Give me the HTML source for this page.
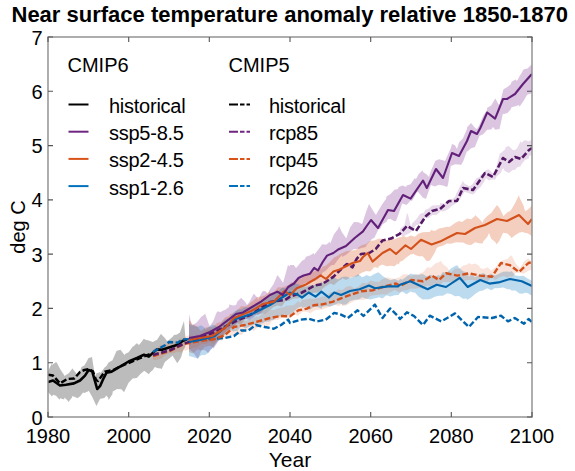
<!DOCTYPE html>
<html><head><meta charset="utf-8"><style>
html,body{margin:0;padding:0;background:#fff;}
body{width:575px;height:471px;overflow:hidden;position:relative;}
svg{position:absolute;left:0;top:0;}
</style></head><body>
<svg width="575" height="471" viewBox="0 0 575 471" font-family="Liberation Sans, sans-serif">
<rect width="575" height="471" fill="#fff"/>
<defs><clipPath id="pc"><rect x="48" y="37" width="484" height="380"/></clipPath></defs>
<g clip-path="url(#pc)" stroke-linejoin="round">
<polygon points="48,372.1 48,371 52,363.2 52,365 56.1,361.9 57,363 60.1,368.9 64.1,375 64.5,376 68.2,373.4 69,373 72,369 72.2,368.2 76.2,373.3 77,376 80.2,370.7 81.5,367 84.3,365.5 87,361 88.3,358.2 92,357 92.3,359 95,376 96.4,373.5 100,372 100.4,373.2 104.4,367.7 106.5,366 108.5,362.6 112.5,360.2 113,359 116.5,350.9 118,350.5 120.5,349.8 124.6,355.3 125,354 128.6,352.3 132.6,346.7 134,346 136.7,343.3 139,345 140.7,342.9 144,338.5 144.7,339.5 148.8,340.4 150,341 152.8,342.1 156.5,340 156.8,340.3 160.8,334.1 161,334 164.9,338.1 167,341 168.9,340 172.9,336.6 174,335 177,334.5 180,332.5 181,329.4 184,321 185,333 185.5,338 185.5,345 185,347.2 183.2,350.2 181,357.6 177.5,363 177,362.7 173,356.6 172.9,355.6 168.9,358.8 166.7,360.4 164.9,362.1 161.6,369.3 160.8,368.4 156.8,368.1 155,366.8 152.8,369.9 150,372.6 148.8,374.2 144.7,371.1 144,371 140.7,373.8 137,377.7 136.7,378.1 132.6,378.4 130.3,381 128.6,382.7 124.6,391.1 124.2,392.3 121,389 120.5,389.2 116.6,389 116.5,389.6 112.7,391.6 112.5,394.1 108.5,400.2 108.3,398 106.4,395.5 104.4,397.9 100.4,398.8 100,399 96.4,406 96.4,406 92.3,396.9 88.6,390.5 88.3,391.3 84.3,393 83,392.6 80.2,396.2 77.3,398.3 76.2,397.4 72.3,396 72.2,397.2 68.2,402.2 68,401 64.5,397.6 64.1,399.5 60.1,398.2 59.5,399.7 56.1,395.7 53,394.7 52,396.4 48,392 48,394.2" fill="#bcbcbc"/>
<polygon points="189,314.6 189,314 192,326 193,324.7 196,323 197.1,322.1 201.1,317.1 205,314 205.1,313.4 209.2,325.3 210,326 213.2,321.2 216,314 217.2,311.6 221.2,311.9 222,311 225.3,309.8 229,307 229.3,304.5 233.3,305.5 236,305 237.4,301.4 241,298 241.4,298.1 245.4,302.2 247,305 249.5,302.1 253.5,293.9 254,294 257.5,297.4 258,300 261.5,293.1 263,291 265.6,291.2 268,294 269.6,289.7 273.6,284.1 277,276 277.7,275.3 281.7,280.7 283,283 285.7,273.6 288,265 289.7,266.5 290,265 293.8,265 296,268 297.8,265.9 301.8,260.9 305,259 305.9,256.7 309.9,255.6 313.9,252.9 314,255 318,249.9 321,246 322,244.2 326,244.7 330,241.8 330,244 334.1,233.9 338.1,229 339,226 342.1,232.4 346,238 346.2,238.4 350.2,227.3 354,222 354.2,221.9 358.3,222.2 362,224 362.3,223.6 366.3,211.2 369,204 370.3,206.2 374.4,212.7 376,215 378.4,210.4 382.4,204 386,199 386.5,196.6 390.5,194.1 394.5,189.8 398,189 398.6,187 402.6,185.5 406,187 406.6,185.4 410.6,184.2 414.7,178.2 416,179 418.7,174 422.7,170.2 423,172 426.8,174.5 429,177 430.8,170.9 434.8,162.2 435,161 438.9,159.3 442.9,160.3 445,161 446.9,156.8 450.9,147.9 452,144 455,145.2 457,149 459,142.6 463,138.2 467,129 467.1,127.3 471,123 471.1,123.1 475.1,128.1 477,129 479.2,125.3 483.2,115.8 487,110 487.2,107.8 491.2,105.6 495,99 495.3,98.6 499,105 499.3,105.4 503.3,89.8 504,89 507.4,86.9 511,84 511.4,81.9 515.4,79.5 517,81 519.5,76.3 521,74 523.5,69.4 527.5,68.5 531,65 531.5,65.7 532,64 532,91 531.5,93.5 527.5,94.6 527,95 523.5,100.9 519.5,106.7 519,105 515.4,106.3 511.4,107.3 511,109 507.4,113.1 503.3,114.2 503,113 499.3,130 499,129 495.3,129.7 493,127 491.2,129.4 487.2,129.7 483.2,134.2 479.2,136 479,137 475.1,146.4 475,147 471.1,148.3 467.1,151.8 467,151 463,161.7 461,165 459,164.5 455,164.2 451,166 450.9,165.1 448,185 446.9,187 442.9,185.6 438.9,184.7 434.8,186.4 431,185 430.8,185.4 426.8,196.3 426,199 422.7,197.4 418.7,192.5 417,192 414.7,196.2 412,201 410.6,200.6 406.6,205 402.6,203.6 402,204 398.6,214 396,221 394.5,221.2 390.5,219.1 388,219 386.5,221.8 382.4,224.5 380,229 378.4,229.6 374.4,237.7 372,239 370.3,240.8 366.3,245.6 366,247 362.3,247.7 358.3,249.1 354.2,249 354,249 350.2,251.3 346.2,254.7 342.1,256.9 342,255 338.1,259.6 334.1,265 332,265 330,266.2 326,270.4 322,273 322,274.9 318,279.2 314,281 313.9,279.8 309.9,282.7 305.9,282.8 302,285 301.8,285.5 297.8,288.5 293.8,290.5 289.7,290.7 288,293 285.7,296.4 281.7,298.9 277.7,301 273.6,303.2 271,304 269.6,304.6 265.6,307.1 261.5,312.4 257.5,315.3 257,314 253.5,317.4 249.5,319.7 245.4,318.7 241.4,320.2 240,322 237.4,322.9 233.3,326 229.3,329.7 228,330 225.3,332 221.2,338.2 220,338 217.2,343.2 213.2,348.8 213,347 209.2,351.6 208,353 205.1,350.2 202,350 201.1,351.1 198,359 197.1,357.9 193,352.3 189,349 189,348.3" fill="#7E2F8E" fill-opacity="0.28"/>
<polygon points="400,228.1 400,229 404,225.5 404,227 407,213 408.1,215.1 411,227 412.1,223.5 416.1,219.4 420.1,213.8 424.2,212.5 425,210 428.2,208.7 432.2,205.4 436.3,205.2 440,205 440.3,202.8 444.3,203.8 448.4,200.3 452.4,199 455,197 456.4,193.6 460.4,185.4 463,181 464.5,183.6 468.5,185.7 470,186 472.5,184.2 476.6,178 480,177 480.6,174.8 484.6,172.6 486,170 488.7,169.3 492.7,173.3 495,173 496.7,165.3 500,153 500.7,153.3 504.8,149.8 506,147 508.8,146.1 512.8,150 515,150 516.9,148.6 520.9,140.8 521,143 524.9,140.1 529,141.5 529,141 532,140 532,155 529,156 529,158.3 524.9,160.1 521,165 520.9,166 516.9,167.6 515,170 512.8,169.9 509,173 508.8,173 504.8,171.1 503,168 500.7,173 496.7,176.2 495,180 492.7,179.2 488.7,180.4 486,178 484.6,181 480.6,187 476.6,190.3 475,193 472.5,194.4 468.5,193 465,192 464.5,191.8 460.4,198.6 456.4,202.8 455,204 452.4,205.4 448.4,208.9 444.3,211.3 440.3,211.3 440,212 436.3,215 432.2,215 428.2,218.2 425,218 424.2,219.1 420.1,223.9 416.1,225.3 412.1,230.4 410,233 408.1,233.7 404,235.9 400,235 400,236.6" fill="#7E2F8E" fill-opacity="0.18"/>
<polygon points="189,320.3 189,320 193,324.7 197.1,326.3 200,330 201.1,330.9 205.1,327.7 209.2,327.1 213.2,327 215,325 217.2,322.9 221.2,321.9 225.3,317.3 229.3,315.8 230,314 233.3,313.4 237.4,309.9 241.4,306 245.4,306.6 249.5,304 250,303 253.5,300.4 257.5,297.1 261.5,296.5 265.6,295.2 269.6,290.9 270,293 273.6,292.6 277.7,287.3 281.7,287.6 285.7,286.2 289.7,284.3 290,283 293.8,281.8 297.8,278.1 301.8,278.9 302,278 305.9,275.1 309.9,272.7 313.9,271.5 318,268.6 322,268.4 322,267 326,265.5 330,262.1 334.1,257.4 338.1,255.6 342,253 342.1,253.3 346.2,251.2 350.2,250.7 354.2,250.3 358,249 358.3,247.2 362.3,244.9 366.3,244 369,241.5 370.3,240.7 374.4,240.5 378.4,238.7 382.4,238.8 386.5,240.2 388,239.6 390.5,236.8 394.5,239.5 398.6,237.6 402,237 402.6,235.5 406.6,237.4 410.6,235.5 414.7,236.8 417,235 418.7,233.5 422.7,232.2 426.8,232.1 430,232 430.8,229.9 434.8,231.1 438.9,228.5 442.9,227.8 446.9,226.8 449,227 450.9,226 455,222.9 459,221 462,222 463,221.2 467.1,218.6 471.1,219.2 475,216 475.1,214.9 479.2,218.7 483,223 483.2,220.4 487.2,215.9 491.2,212.9 495.3,207.3 497,205 499.3,207.8 503,215 503.3,216.3 507.4,212.3 510,211 511.4,209.4 515.4,202.5 519,195 519.5,197.6 523.5,205.5 525,211 527.5,209.9 531.5,206 532,205 532,236 531.5,235.8 527.5,233.3 523.5,232.4 523,232 519.5,232.6 515.4,234.9 511.4,238.3 511,237 507.4,233.6 503.3,232.8 503,233 499.3,241 496.4,244.6 495.3,242.1 491.2,238.8 489,233 487.2,236.9 483.2,241.5 482.6,243.4 479.2,243.2 475.1,242.2 471.1,244.9 467.1,244.5 463,242.5 459,242.5 457.4,242.3 455,242.4 450.9,243.8 446.9,243.6 442.9,245.7 438.9,246.7 436.7,248 434.8,252.6 430.8,259.2 429.8,260.6 426.8,261.3 422.7,256.3 418.7,256.3 414.7,254.7 413.8,253.8 410.6,254.6 406.6,257.2 402.6,260.7 400,261.8 398.6,264.7 397.8,263.5 394.5,266.2 390.5,265.8 386.5,266.3 382.4,264.5 378.7,266.3 378.4,267.9 374.4,267 370.3,271.6 366.3,271.1 362.3,272.5 359.6,274 358.3,276.3 354.2,276.8 350.2,277.4 346.2,280 342.1,278.1 342,279 338.1,281.3 334.1,285.1 330,283.6 326,286 322,289 322,289.7 318,292.4 313.9,292.8 309.9,293.6 305.9,295.8 302,296 301.8,295.8 297.8,298.4 293.8,298.6 290,300 289.7,301 285.7,300.8 281.7,306.5 277.7,305.6 273.6,307 270,310 269.6,310.1 265.6,313.8 261.5,313.4 257.5,314.5 253.5,315.1 250,318 249.5,317.6 245.4,319 241.4,324 237.4,323.5 233.3,326.7 230,328 229.3,329 225.3,333.3 221.2,338.3 217.2,340.9 215,344 213.2,347.1 209.2,345.7 205.1,346.7 201.1,350.8 200,350 197.1,349.4 193,353.5 189,352 189,351.3" fill="#D95319" fill-opacity="0.28"/>
<polygon points="189,323.7 189,324 193,325.1 197.1,327.1 201.1,325.2 205,328 205.1,329.6 209.2,326.8 213.2,324.4 217.2,326.8 220,325 221.2,323.2 225.3,319.2 229.3,317.8 233.3,312.7 234,312 237.4,309.7 241.4,309.3 245.4,306.9 249.5,307.8 252,306 253.5,305.9 257.5,304.4 261.5,300.8 265.6,297.1 269.6,296.4 270,297 273.6,293.1 277.7,292.1 281.7,288 285.7,288 289.7,284.6 290,284 293.8,283.5 297.8,284 301.8,285.9 302,286 305.9,286.7 309.9,285.3 313.9,285 318,284.1 322,281.4 322,283 326,282.6 330,278.6 334.1,277.5 338.1,279.5 342,277 342.1,277.1 346.2,276.5 350.2,278.1 354.2,276.4 358.3,274.3 362.3,277.3 365,276 366.3,275 370.3,276.4 374.4,274.1 378.4,272.3 380.6,274 382.4,275.7 386.5,278.5 390.5,280.2 392,279.7 394.5,278.9 398.6,280.7 400,279 402.6,279.4 406.6,276.4 410.6,273.4 413.8,274.4 414.7,274.4 418.7,274.7 422.7,274 426.8,276.4 430.8,274.7 434.8,276.6 438.9,275.1 440,276 442.9,272 446.9,273.1 450.9,268.6 455,265.9 457.4,265.2 459,267.8 463,271.3 467.1,272.4 469,276.7 471.1,274.1 475.1,277.2 479.2,274.5 483.2,273.1 487.2,275.5 491.2,273.6 492,274.4 495.3,275.4 499.3,273.6 503.3,271.8 507.4,271.6 510,272 511.4,271.1 515.4,275.5 519.5,276.1 523.5,275.7 527.5,278.4 531.5,280.6 532,281 532,295 531.5,295.4 527.5,293.1 524,292.8 523.5,293.8 519.5,293.5 515.4,290.6 511.4,290.4 510,289.3 507.4,289.3 503.3,287.5 499.3,288.1 496.4,288.2 495.3,288.1 491.2,290.3 487.2,288.2 483.2,290.6 480,291 479.2,291.3 475.1,294 471.1,297.5 467.1,299.9 466.6,298.5 463,298.7 459,295.9 455,296.2 450.9,294 446.9,293.3 446,294 442.9,295.8 438.9,295.7 434.8,296.8 430.8,298.7 427.6,299.6 426.8,299.3 422.7,299.4 418.7,296.8 414.7,292.3 413.8,292.8 410.6,291.6 406.6,294.3 402.6,291.7 400,292.8 398.6,295 397.8,295 394.5,295.2 390.5,296.4 386.5,295.2 382.4,298.4 378.7,297 378.4,297.6 374.4,298.5 370.3,299.5 366.3,298.7 362.3,297.3 359.6,299 358.3,299.4 354.2,299.8 350.2,300.7 346.2,304.6 342.1,304.7 342,304 338.1,303.2 334.1,305.3 330,306.4 326,306.1 322,307 322,309 318,307.1 313.9,307 309.9,309.8 305.9,306.7 302,308 301.8,306.5 297.8,308.1 293.8,311.8 289.7,314.6 285.7,316.1 285,314 281.7,316.9 277.7,316.1 273.6,319.9 271,320 269.6,321.5 265.6,321.8 261.5,323.8 257.5,323.4 257,324 253.5,324.7 249.5,326.5 245.4,328.4 241.4,326 237.4,330.8 233.3,331.5 230,330 229.3,330.1 225.3,334.4 221.2,339.2 220,340 217.2,341.8 213.2,347.8 210,350 209.2,352.3 205.1,354.9 201.1,355.2 198,358 197.1,358.5 193,357 189,356 189,356.7" fill="#0072BD" fill-opacity="0.26"/>
<polygon points="153,349.8 153,350 157,347.8 161.1,344.8 165.1,345.1 169.1,343.3 173.2,341.5 177.2,341.5 181.2,338.6 184,338 185.2,336.7 189.3,334.9 193.3,336.6 197.3,334.6 201.4,334.3 205.4,330.3 209.4,329.6 213.5,331.1 217.5,326.2 221.5,325.1 225.5,325.2 229.6,324.3 230,325 233.6,324.8 237.6,324 241.7,320.6 245.7,321.1 249.7,319.3 253.8,317.7 257,316 257.8,317.2 261.8,314.2 265.8,313 269.9,310.1 273.9,310.1 277.9,308.3 282,307.6 285,307 286,305.7 290,305.4 294,305.1 298.1,301.1 300,303 302.1,300 306.1,299.3 310.2,298.6 314.2,298.9 318.2,298 322.3,296.6 326.3,296.2 330.3,292.2 334.3,292.4 338.4,289.3 342,290 342.4,290 346.4,286.7 350.5,286.1 354.5,288.5 358.5,286.6 362.6,282.8 366.6,283.6 370.6,280.5 374.6,281.8 378.7,282.1 382.7,278.9 386.7,277.3 390,278 390.8,278.4 394.8,278.8 398.8,277.4 400,277 402.9,274.2 406.9,274.2 410.9,275.9 414.9,274.6 419,274.4 420,273 423,272.6 427,267.4 431.1,267.6 435.1,263.7 439.1,261.9 441,261 443.2,264.5 447.2,267.2 450,272 451.2,272.5 455.2,268.5 459.3,268.7 463.3,265.6 467.3,264.5 469,263 471.4,264.6 475.4,263.6 479.4,266.1 480,268 483.5,269 487.5,267.3 491.5,270.7 492,270 495.5,267.3 499.6,262.3 503.6,260 507.6,259 510,256 511.7,255.6 515.7,263.6 519.7,268.2 520,268 523.8,261.8 527.8,258.5 528,258 531.8,262.2 532,262 532,270 531.8,269.4 527.8,270.9 523.8,273.7 519.7,272.8 515.7,272.9 511.7,277.6 510,276 507.6,277.7 503.6,276 499.6,277.2 495.5,280 491.5,277.5 487.5,281.2 483.5,279.9 480,280 479.4,282.3 475.4,280.6 471.4,280.1 467.3,280.1 463.3,281.3 459.3,280 455.2,282.6 451.2,281.7 450,282 447.2,282.1 443.2,281.9 439.1,285.4 435.1,284.1 431.1,286.4 427,285.4 423,288.9 420,288 419,288.1 414.9,288.8 410.9,288.5 406.9,290.2 402.9,290.4 398.8,292.5 394.8,289.9 390.8,292.3 390,292 386.7,294.5 382.7,294.3 378.7,294.7 374.6,295.2 370.6,295.7 366.6,298.9 362.6,300 358.5,299.7 354.5,300.7 350.5,302.9 346.4,305.2 342.4,306.2 342,304 338.4,306.2 334.3,304.3 330.3,306.7 326.3,308 322.3,309.5 318.2,309.7 314.2,310.6 310.2,313.2 306.1,311.6 302.1,312.1 300,314 298.1,315.7 294,314.6 290,317.5 286,317.4 285,318 282,317.8 277.9,320.1 273.9,320 271,322 269.9,324.7 265.8,326.6 261.8,324.7 257.8,328.1 257,328 253.8,331.1 249.7,329.1 245.7,330.2 241.7,334.9 237.6,334.5 233.6,335.5 230,337 229.6,338.3 225.5,337 221.5,341.1 217.5,339.2 213.5,343.7 209.4,341.9 205.4,344.1 201.4,344.1 197.3,347.3 193.3,348 189.3,349.3 185.2,350.8 184,350 181.2,352.5 177.2,351.7 173.2,353.4 169.1,353.2 165.1,355.1 161.1,358.5 157,359.7 153,360 153,360.3" fill="#D95319" fill-opacity="0.16"/>
<polyline points="48,374.8 53,375.6 60,383.4 67.3,379 74.4,378.4 80,372 84.4,370 88.6,369.2 92.9,371.3 96,380 98,381 104.8,371.7 113.3,370 121.8,365.8 132,361.5 142.2,357.3 150,354 153,353" fill="none" stroke="#000" stroke-width="2.5" stroke-dasharray="6,2.5"/>
<polyline points="48,382 53,380.5 60,385.5 66,384.8 74,383.4 80,380.5 85,375.6 88.6,370 92.2,371.3 97.2,389 100,386.2 103,379.4 106.5,372.6 111.6,371.7 120,366.6 128.6,361.5 137,358 144,354.7 148.8,356.6 156.5,349.6 162.8,349.6 170.5,347 177,345 183,340.7 187,339.4" fill="none" stroke="#000" stroke-width="2.6"/>
<polyline points="153,352 165.4,345 169.2,342 178,342.6 182,339.4 195,339 210,339 225,338 234,336 241,330.5 248.5,330.5 255.7,325 264.7,327 273.8,328.7 281,325 288.2,319.6 290,323 300.2,319.7 308.7,318.8 317.2,321.4 325.7,319.7 334.2,312.9 341,314.6 347.8,318 357.6,310.3 363.4,316 374.9,304.6 382.5,318 390.2,308.4 397.8,316 400,319 406.9,312.3 414,316 423,325 429.8,315.7 441.3,321.4 455,313.4 468.9,327 478,317 492,318 501,315.7 508,321.4 514.8,318 524,323.7 528.5,319 532,322" fill="none" stroke="#0064AD" stroke-width="2.4" stroke-dasharray="6,2.5"/>
<polyline points="153,356 170,351 184,344 200,341 215,339 225,335 234,327 245,325 256,322 270,318 281,316 290,316.3 298.5,310.3 307,308.6 313.8,305.2 322.3,304.4 332.5,301.8 341,298.4 350,295 361.5,291.2 373,290.2 384.4,286.4 396,283.5 400,285.9 411.5,280 423,281.3 432,275.6 439,280 446,273.3 457.4,275.6 469,273.3 480,275.6 492,276.7 501,263 510,265.2 519,272 528.5,263 532,262" fill="none" stroke="#D4501A" stroke-width="2.4" stroke-dasharray="6,2.5"/>
<polyline points="153,355 170.5,350 183,344 200,338 215,332 234,322 252,314 270,302 285,300 290,296.7 302,292.5 315,285.3 321.7,284.3 327,281 333.4,276.8 339.7,270.5 347,264 352.5,267.3 356.7,258.8 361,254 369.3,253 375.7,249 382.5,240.5 391,238.6 399.7,233.8 407,226 416,231 426,216 432,211 440,209 449,201 457,201 463,188 473,190 485,173 493,177 503,158 509,162 515,157 521,159 529,150 532,148" fill="none" stroke="#541A66" stroke-width="2.6" stroke-dasharray="6,2.5"/>
<polyline points="189,342 200,340 215,336 234,319.6 252,314 270,305 290,292.5 296.8,294.2 302,297.6 308.7,292.5 315.5,296.7 321.4,291.6 329,297.6 334.2,292.5 341,295 350,291 359.6,289.3 369,285.5 375,288.3 388,286.4 398,286.4 400,284.7 410.3,281.3 427.6,289.3 436.7,284.7 446,287 459.7,277.8 467.7,287 480.3,280 489.4,283.6 498.6,282.4 510,279 521.7,281.3 532,286" fill="none" stroke="#0064AD" stroke-width="2.1"/>
<polyline points="189,340 200,338 212,336 225,328 234,318 252,310.6 263,304 274,301.6 284.6,290.7 290,295 296.8,288.2 305.3,284.8 310,282 315.3,279 320.6,275.3 326,279 333.4,271.5 339.7,269.4 346,266.2 352.5,263 360,261 363,257 367.7,253 372.5,261.6 382.5,253 390,249 396,254 405.5,245.3 411,249 421,239.7 431.6,244.5 440,241.6 449,237 457,233 465,234 475,228 485,225 497,219 507,221 519,215 528,224 532,219" fill="none" stroke="#D4501A" stroke-width="2.1"/>
<polyline points="189,338 200,336 210,332 219,327 236,314 243,312.4 252,307 261,301.6 270,295 277.4,291.6 282.8,295 288.2,287 294,283.5 298.5,278 303.6,275.5 310,273.7 314.2,267.8 318,270.5 322.7,262 327,255.6 333.4,253 338.7,249.2 346,246 355,237.7 363,231.4 366,227 371,220 378,228 388,210 394,211 403,195 410.6,198.6 423,180.5 426.8,188 436,169 443,178 452,153 459,156 467,141 471,131 477,134 480.2,128.3 487.2,112.5 495.1,118.7 503,99 507,99 515,94 523,84 531,75 532,74" fill="none" stroke="#62207A" stroke-width="2.1"/>
</g>
<rect x="48" y="37" width="484" height="380" fill="none" stroke="#8c8c8c" stroke-width="1.4"/>
<path d="M48.0,417v-5M48.0,37v5" stroke="#555" stroke-width="1.1"/><path d="M128.7,417v-5M128.7,37v5" stroke="#555" stroke-width="1.1"/><path d="M209.3,417v-5M209.3,37v5" stroke="#555" stroke-width="1.1"/><path d="M290.0,417v-5M290.0,37v5" stroke="#555" stroke-width="1.1"/><path d="M370.7,417v-5M370.7,37v5" stroke="#555" stroke-width="1.1"/><path d="M451.3,417v-5M451.3,37v5" stroke="#555" stroke-width="1.1"/><path d="M532.0,417v-5M532.0,37v5" stroke="#555" stroke-width="1.1"/><path d="M48,417.0h5M532,417.0h-5" stroke="#555" stroke-width="1.1"/><path d="M48,362.7h5M532,362.7h-5" stroke="#555" stroke-width="1.1"/><path d="M48,308.4h5M532,308.4h-5" stroke="#555" stroke-width="1.1"/><path d="M48,254.1h5M532,254.1h-5" stroke="#555" stroke-width="1.1"/><path d="M48,199.9h5M532,199.9h-5" stroke="#555" stroke-width="1.1"/><path d="M48,145.6h5M532,145.6h-5" stroke="#555" stroke-width="1.1"/><path d="M48,91.3h5M532,91.3h-5" stroke="#555" stroke-width="1.1"/><path d="M48,37.0h5M532,37.0h-5" stroke="#555" stroke-width="1.1"/>
<text x="48.0" y="442.5" font-size="20" text-anchor="middle" fill="#000">1980</text><text x="128.7" y="442.5" font-size="20" text-anchor="middle" fill="#000">2000</text><text x="209.3" y="442.5" font-size="20" text-anchor="middle" fill="#000">2020</text><text x="290.0" y="442.5" font-size="20" text-anchor="middle" fill="#000">2040</text><text x="370.7" y="442.5" font-size="20" text-anchor="middle" fill="#000">2060</text><text x="451.3" y="442.5" font-size="20" text-anchor="middle" fill="#000">2080</text><text x="532.0" y="442.5" font-size="20" text-anchor="middle" fill="#000">2100</text><text x="42.5" y="424.5" font-size="20" text-anchor="end" fill="#000">0</text><text x="42.5" y="370.2" font-size="20" text-anchor="end" fill="#000">1</text><text x="42.5" y="315.9" font-size="20" text-anchor="end" fill="#000">2</text><text x="42.5" y="261.6" font-size="20" text-anchor="end" fill="#000">3</text><text x="42.5" y="207.4" font-size="20" text-anchor="end" fill="#000">4</text><text x="42.5" y="153.1" font-size="20" text-anchor="end" fill="#000">5</text><text x="42.5" y="98.8" font-size="20" text-anchor="end" fill="#000">6</text><text x="42.5" y="44.5" font-size="20" text-anchor="end" fill="#000">7</text>
<text x="290" y="466.5" font-size="21" text-anchor="middle" fill="#000">Year</text>
<text transform="translate(25.4,227) rotate(-90)" font-size="20" text-anchor="middle" fill="#000">deg C</text>
<text x="11.5" y="22" font-size="22" font-weight="bold" fill="#000">Near surface temperature anomaly relative 1850-1870</text>
<text x="67.5" y="72.3" font-size="20" fill="#000">CMIP6</text><text x="228.5" y="72.3" font-size="20" fill="#000">CMIP5</text><line x1="68.5" y1="104.5" x2="88.5" y2="104.5" stroke="#000" stroke-width="2"/><text x="109" y="113.0" font-size="20" letter-spacing="-0.25" fill="#000">historical</text><path d="M229,104.5H238M240,104.5H244.5M246.5,104.5H250" stroke="#000" stroke-width="2"/><text x="269" y="113.0" font-size="20" letter-spacing="-0.25" fill="#000">historical</text><line x1="68.5" y1="131.7" x2="88.5" y2="131.7" stroke="#6E2680" stroke-width="2"/><text x="109" y="140.2" font-size="20" letter-spacing="-0.25" fill="#000">ssp5-8.5</text><path d="M229,131.7H238M240,131.7H244.5M246.5,131.7H250" stroke="#6E2680" stroke-width="2"/><text x="269" y="140.2" font-size="20" letter-spacing="-0.25" fill="#000">rcp85</text><line x1="68.5" y1="158.9" x2="88.5" y2="158.9" stroke="#D95319" stroke-width="2"/><text x="109" y="167.4" font-size="20" letter-spacing="-0.25" fill="#000">ssp2-4.5</text><path d="M229,158.9H238M240,158.9H244.5M246.5,158.9H250" stroke="#D95319" stroke-width="2"/><text x="269" y="167.4" font-size="20" letter-spacing="-0.25" fill="#000">rcp45</text><line x1="68.5" y1="186.1" x2="88.5" y2="186.1" stroke="#0072BD" stroke-width="2"/><text x="109" y="194.6" font-size="20" letter-spacing="-0.25" fill="#000">ssp1-2.6</text><path d="M229,186.1H238M240,186.1H244.5M246.5,186.1H250" stroke="#0072BD" stroke-width="2"/><text x="269" y="194.6" font-size="20" letter-spacing="-0.25" fill="#000">rcp26</text>
</svg>
</body></html>
